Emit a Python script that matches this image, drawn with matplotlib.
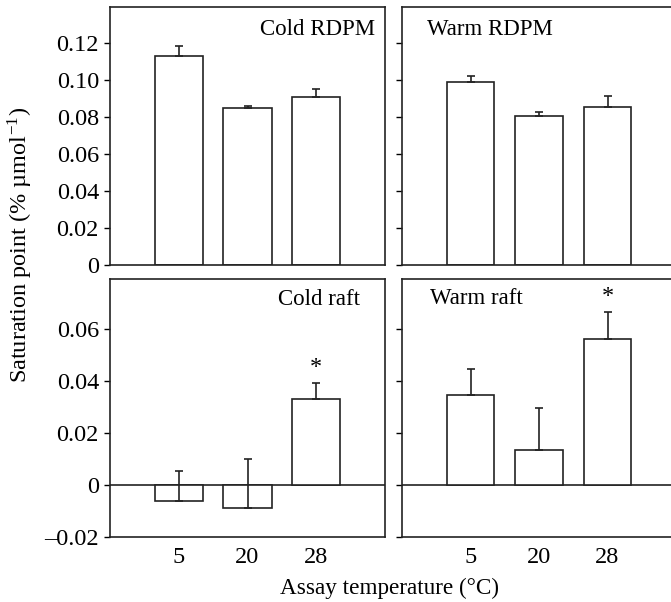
import numpy as np
import matplotlib
matplotlib.use("Agg")
from matplotlib import pyplot as plt

temps = ["5", "20", "28"]

cold_rdpm = [0.113, 0.085, 0.091]
cold_rdpm_err = [0.0056, 0.0010, 0.0043]
warm_rdpm = [0.099, 0.0805, 0.0856]
warm_rdpm_err = [0.0031, 0.0022, 0.0058]

cold_raft = [-0.0062, -0.0090, 0.0328]
cold_raft_err = [0.0116, 0.0191, 0.0062]
warm_raft = [0.0346, 0.0132, 0.0558]
warm_raft_err = [0.0100, 0.0162, 0.0105]

# asterisk marks significant bars
cold_raft_sig = [False, False, True]
warm_raft_sig = [False, False, True]

rdpm_ticks = [0, 0.02, 0.04, 0.06, 0.08, 0.10, 0.12]
rdpm_ticklabels = ["0", "0.02", "0.04", "0.06", "0.08", "0.10", "0.12"]
raft_ticks = [-0.02, 0, 0.02, 0.04, 0.06]
raft_ticklabels = ["\u20130.02", "0", "0.02", "0.04", "0.06"]

plt.rcParams['font.family'] = ['Liberation Serif', 'DejaVu Serif']
plt.rcParams['mathtext.fontset'] = 'stix'
FS = 17.5
FS_PANEL = 16.5
FS_XLAB = 16.7

fig = plt.figure(figsize=(6.71, 6.02), dpi=100)
H, W = 602.0, 671.0

def make_ax(left, top, right, bottom):
    return fig.add_axes([left / W, 1 - bottom / H, (right - left) / W, (bottom - top) / H])

axTL = make_ax(110, 7, 385, 265)
axTR = make_ax(402, 7, 676, 265)
axBL = make_ax(110, 279, 385, 537)
axBR = make_ax(402, 279, 676, 537)

x = np.arange(1, 4)

def draw_panel(ax, vals, errs, sig, ylim, ticks, ticklabels, show_labels, show_xt):
    ax.bar(x, vals, width=0.7, color="white", edgecolor="#222222", linewidth=1.2, zorder=2)
    lower = [0] * len(errs)
    ax.errorbar(x, vals, yerr=[lower, errs], fmt="none", ecolor="#222222",
                elinewidth=1.2, capsize=3, capthick=1.2, zorder=3)
    if sig is not None:
        for xi, v, e, s in zip(x, vals, errs, sig):
            if s:
                ax.text(xi, v + e + 0.006, "*", ha="center", va="center", fontsize=FS)
    ax.set_xlim(0, 4)
    ax.set_ylim(*ylim)
    ax.set_yticks(ticks)
    if show_labels:
        ax.set_yticklabels(ticklabels, fontsize=FS)
    else:
        ax.set_yticklabels([])
    ax.tick_params(axis="y", direction="out", length=4, width=1.0, pad=4)
    if show_xt:
        ax.set_xticks(x)
        ax.set_xticklabels(temps, fontsize=FS)
        ax.tick_params(axis="x", length=0, pad=7)
    else:
        ax.set_xticks([])
    if ylim[0] < 0:
        ax.axhline(0, color="#222222", linewidth=1.2, zorder=1)
    for sp in ax.spines.values():
        sp.set_linewidth(1.2)
        sp.set_color("#222222")

draw_panel(axTL, cold_rdpm, cold_rdpm_err, None, (0, 0.1395), rdpm_ticks, rdpm_ticklabels, True, False)
draw_panel(axTR, warm_rdpm, warm_rdpm_err, None, (0, 0.1395), rdpm_ticks, rdpm_ticklabels, False, False)
draw_panel(axBL, cold_raft, cold_raft_err, cold_raft_sig, (-0.02, 0.079), raft_ticks, raft_ticklabels, True, True)
draw_panel(axBR, warm_raft, warm_raft_err, warm_raft_sig, (-0.02, 0.079), raft_ticks, raft_ticklabels, False, True)

axTL.text(0.964, 0.911, "Cold RDPM", transform=axTL.transAxes, ha="right", va="center", fontsize=FS_PANEL)
axTR.text(0.091, 0.911, "Warm RDPM", transform=axTR.transAxes, ha="left", va="center", fontsize=FS_PANEL)
axBL.text(0.909, 0.919, "Cold raft", transform=axBL.transAxes, ha="right", va="center", fontsize=FS_PANEL)
axBR.text(0.102, 0.926, "Warm raft", transform=axBR.transAxes, ha="left", va="center", fontsize=FS_PANEL)

fig.text(20 / W, 1 - 245 / H, "Saturation point (% \u00b5mol$^{\\mathregular{-1}}$)",
         rotation=90, ha="center", va="center", fontsize=FS)
fig.text(389 / W, 1 - 588 / H, "Assay temperature (\u00b0C)", ha="center", va="center", fontsize=FS_XLAB)

fig.savefig("out.png", dpi=100)
